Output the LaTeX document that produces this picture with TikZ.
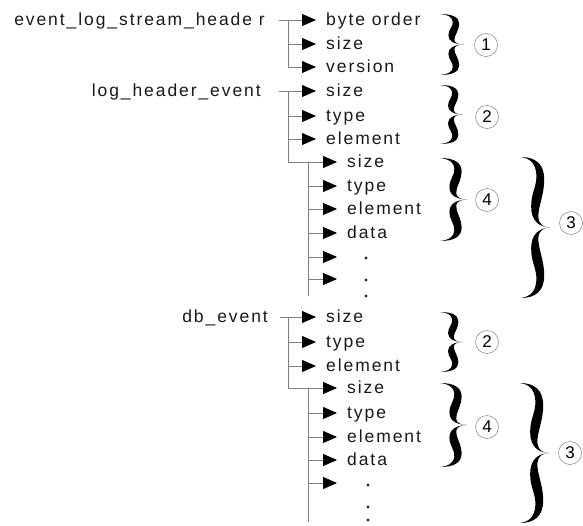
\documentclass[tikz,border=0pt]{standalone}
\usepackage{fontspec}
\setmainfont{Liberation Sans}[LetterSpace=11]
\usetikzlibrary{arrows.meta}

\newcommand{\cbhalf}[4]{%
	\fill[black] (#1,#2) .. controls ({#1+0.5*#4},{#2}) and ({#1+0.8*#4},{#2+0.1*(#3)}) .. ({#1+0.8*#4},{#2+0.32*(#3)})
		.. controls ({#1+0.8*#4},{#2+0.55*(#3)}) and ({#1+0.58*#4},{#2+0.7*(#3)}) .. ({#1+0.6*#4},{#2+0.86*(#3)})
		.. controls ({#1+0.62*#4},{#2+0.96*(#3)}) and ({#1+0.8*#4},{#2+(#3)}) .. ({#1+#4},{#2+(#3)})
		.. controls ({#1+0.6*#4},{#2+0.99*(#3)}) and ({#1+0.35*#4},{#2+0.9*(#3)}) .. ({#1+0.35*#4},{#2+0.7*(#3)})
		.. controls ({#1+0.35*#4},{#2+0.5*(#3)}) and ({#1+0.55*#4},{#2+0.42*(#3)}) .. ({#1+0.53*#4},{#2+0.25*(#3)})
		.. controls ({#1+0.5*#4},{#2+0.08*(#3)}) and ({#1+0.3*#4},{#2+0.02*(#3)}) .. (#1,#2) -- cycle;}
\newcommand{\cbrace}[4]{%
	\pgfmathsetmacro{\brh}{(#3-#2)/2}%
	\cbhalf{#1}{#2}{\brh}{#4}%
	\cbhalf{#1}{#3}{-\brh}{#4}}

\begin{document}
\begin{tikzpicture}[x=1pt,y=-1pt,
		lbl/.style={inner ysep=0pt, text height=12.5pt, text depth=2pt, font=\fontsize{17.5}{19}\selectfont, text=black!90},
		hdr/.style={lbl, anchor=east, inner xsep=0pt},
		item/.style={lbl, anchor=west, inner xsep=10pt},
		line/.style={draw=black!50, line width=0.8pt},
		arr/.style={line, -{Triangle[length=14pt,width=12pt,black]}},
		dotmark/.style={circle, fill=black!85, inner sep=0pt, minimum size=3.4pt},
		num/.style={circle, draw=black!50, line width=0.5pt, inner sep=0pt, minimum size=23pt, font=\fontsize{17}{17}\selectfont}]
	\useasboundingbox (0,0) rectangle (583,525);

	\node[hdr] (h1) at (265,20) {event\_log\_stream\_heade r};
	\node[item] (a-bo) at (316,20) {byte order};
	\node[item] (a-size) at (316,44) {size};
	\node[item] (a-ver) at (316,67) {version};
	\coordinate (ta) at (288,20);
	\draw[arr, shorten <=14pt] (h1) -- (a-bo);
	\draw[arr] (ta) |- (a-size);
	\draw[arr] (ta) |- (a-ver);

	\node[hdr] (h2) at (261,91) {log\_header\_event};
	\node[item] (b-size) at (316,91) {size};
	\node[item] (b-type) at (316,116) {type};
	\node[item] (b-elem) at (316,139) {element};
	\node[item] (bs-size) at (337,162) {size};
	\node[item] (bs-type) at (337,186) {type};
	\node[item] (bs-elem) at (337,209) {element};
	\node[item] (bs-data) at (337,233) {data};
	\coordinate (tb) at (288,91);
	\coordinate (sb) at (308,162);
	\coordinate (bk1) at (337,257);
	\coordinate (bk2) at (337,279);
	\coordinate (bend) at (308,296);
	\draw[arr, shorten <=18pt] (h2) -- (b-size);
	\draw[arr] (tb) |- (b-type);
	\draw[arr] (tb) |- (b-elem);
	\draw[arr] (tb) |- (bs-size);
	\draw[arr] (sb) |- (bs-type);
	\draw[arr] (sb) |- (bs-elem);
	\draw[arr] (sb) |- (bs-data);
	\draw[arr] (sb) |- (bk1);
	\draw[arr] (sb) |- (bk2);
	\draw[line] (sb) -- (bend);
	\node[dotmark] (bd1) at (366,258) {};
	\node[dotmark] (bd2) at (366,280) {};
	\node[dotmark] (bd3) at (366,296) {};

	\node[hdr] (h3) at (268,317) {db\_event};
	\node[item] (c-size) at (316,317) {size};
	\node[item] (c-type) at (316,342) {type};
	\node[item] (c-elem) at (316,366) {element};
	\node[item] (cs-size) at (337,388) {size};
	\node[item] (cs-type) at (337,413) {type};
	\node[item] (cs-elem) at (337,437) {element};
	\node[item] (cs-data) at (337,460) {data};
	\coordinate (tc) at (288,317);
	\coordinate (sc) at (308,388);
	\coordinate (ck1) at (337,483);
	\coordinate (cend) at (308,522);
	\draw[arr, shorten <=12pt] (h3) -- (c-size);
	\draw[arr] (tc) |- (c-type);
	\draw[arr] (tc) |- (c-elem);
	\draw[arr] (tc) |- (cs-size);
	\draw[arr] (sc) |- (cs-type);
	\draw[arr] (sc) |- (cs-elem);
	\draw[arr] (sc) |- (cs-data);
	\draw[arr] (sc) |- (ck1);
	\draw[line] (sc) -- (cend);
	\node[dotmark] (cd1) at (368,485) {};
	\node[dotmark] (cd2) at (368,507) {};
	\node[dotmark] (cd3) at (368,520) {};

	\cbrace{440}{14}{75}{24}
	\node[num] (n1) at (486,45) {1};
	\cbrace{440}{85}{144}{23}
	\node[num] (n2a) at (487,117) {2};
	\cbrace{440}{158}{241}{27}
	\node[num] (n4a) at (487,200) {4};
	\cbrace{521}{157}{298}{29}
	\node[num] (n3a) at (571,223) {3};
	\cbrace{440}{312}{372}{23}
	\node[num] (n2b) at (487,342) {2};
	\cbrace{440}{383}{467}{27}
	\node[num] (n4b) at (487,427) {4};
	\cbrace{520}{383}{523}{29}
	\node[num] (n3b) at (570,453) {3};
\end{tikzpicture}
\end{document}
